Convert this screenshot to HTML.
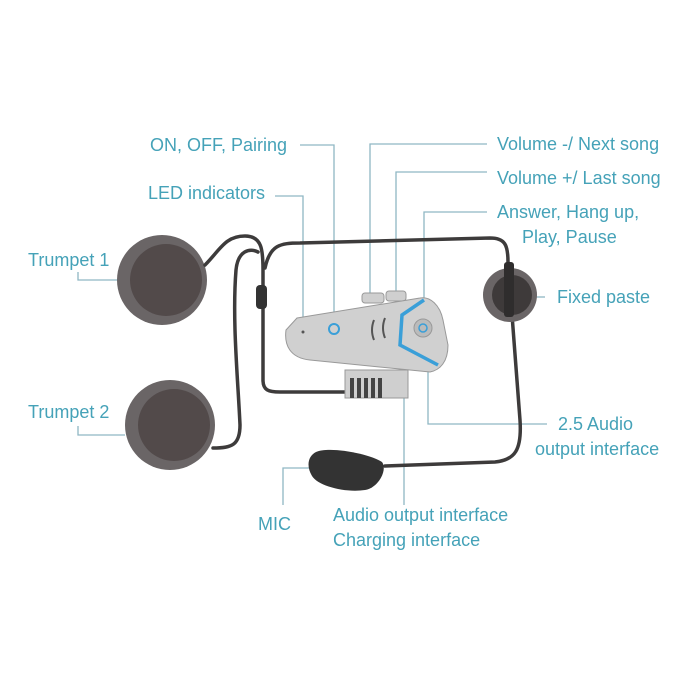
<!DOCTYPE html>
<html><head><style>
html,body{margin:0;padding:0;background:#fff;}
svg{display:block}
text{font-family:"Liberation Sans",sans-serif;font-size:18px;fill:#45a2b8;}
</style></head><body>
<svg width="700" height="700" viewBox="0 0 700 700" xmlns="http://www.w3.org/2000/svg">
<rect width="700" height="700" fill="#fff"/>
<g fill="none" stroke="#8fb7c4" stroke-width="1.3">
<path d="M78 272 V280 H118"/>
<path d="M78 426 V435 H125"/>
<path d="M300 145 H334 V328"/>
<path d="M275 196 H303 V327"/>
<path d="M487 144 H370 V297"/>
<path d="M487 172 H396 V298"/>
<path d="M487 212 H424 V325"/>
<path d="M545 297 H532"/>
<path d="M547 424 H428 V370"/>
<path d="M404 380 V505"/>
<path d="M283 505 V468 H312"/>
</g>
<circle cx="162" cy="280" r="45" fill="#6a6566"/>
<circle cx="166" cy="280" r="36" fill="#524a4a"/>
<circle cx="170" cy="425" r="45" fill="#6a6566"/>
<circle cx="174" cy="425" r="36" fill="#524a4a"/>
<g fill="none" stroke="#3d3b3b" stroke-width="3.5" stroke-linecap="round">
<path d="M205 265 C220 250 225 236 245 236 C262 236 263 250 263 270 V380 C263 390 268 392 280 392 H350"/>
<path d="M213 448 C232 448 240 445 240 425 C238 380 232 320 236 270 C238 250 250 248 258 252"/>
<path d="M265 268 C270 245 280 243 300 243 L490 238 C505 238 508 245 508 262 L520 420 C522 450 515 460 495 462 L385 466"/>
</g>
<rect x="256" y="285" width="11" height="24" rx="4" fill="#333"/>
<circle cx="510" cy="295" r="27" fill="#6a6566"/>
<circle cx="512" cy="295" r="20" fill="#3e3a3a"/>
<rect x="504" y="262" width="10" height="55" rx="3" fill="#2f2d2d"/>
<path d="M316 452 C330 446 370 454 382 462 C388 470 378 488 365 490 C345 493 318 486 312 476 C306 466 308 456 316 452Z" fill="#333"/>
<g>
<path d="M345 370 H408 V398 H345Z" fill="#cfcfcf" stroke="#999"/>
<g fill="#444"><rect x="350" y="378" width="4" height="20"/><rect x="357" y="378" width="4" height="20"/><rect x="364" y="378" width="4" height="20"/><rect x="371" y="378" width="4" height="20"/><rect x="378" y="378" width="4" height="20"/></g>
<rect x="362" y="293" width="22" height="10" rx="3" fill="#cfcfcf" stroke="#999"/>
<rect x="386" y="291" width="20" height="10" rx="3" fill="#cfcfcf" stroke="#999"/>
<path d="M297 318 L420 298 C430 296 440 305 443 320 L448 345 C448 362 440 370 430 372 L310 360 C290 358 284 345 286 330 Z" fill="#d0d0d0" stroke="#999"/>
<path d="M424 300 L402 315 L400 345 L438 365" fill="none" stroke="#3a9fd8" stroke-width="3.5"/>
<circle cx="423" cy="328" r="9" fill="#bbb" stroke="#999"/>
<circle cx="423" cy="328" r="4" fill="none" stroke="#3a9fd8" stroke-width="1.5"/>
<circle cx="334" cy="329" r="5" fill="none" stroke="#3a9fd8" stroke-width="2"/>
<circle cx="303" cy="332" r="1.5" fill="#555"/>
<path d="M374 320 Q370 330 374 340 M385 318 Q381 328 385 338" stroke="#555" stroke-width="2" fill="none"/>
</g>
<text x="28" y="266">Trumpet 1</text>
<text x="28" y="418">Trumpet 2</text>
<text x="150" y="151">ON, OFF, Pairing</text>
<text x="148" y="199">LED indicators</text>
<text x="497" y="150">Volume -/ Next song</text>
<text x="497" y="184">Volume +/ Last song</text>
<text x="497" y="218">Answer, Hang up,</text>
<text x="522" y="243">Play, Pause</text>
<text x="557" y="303">Fixed paste</text>
<text x="558" y="430">2.5 Audio</text>
<text x="535" y="455">output interface</text>
<text x="258" y="530">MIC</text>
<text x="333" y="521">Audio output interface</text>
<text x="333" y="546">Charging interface</text>
</svg>
</body></html>
